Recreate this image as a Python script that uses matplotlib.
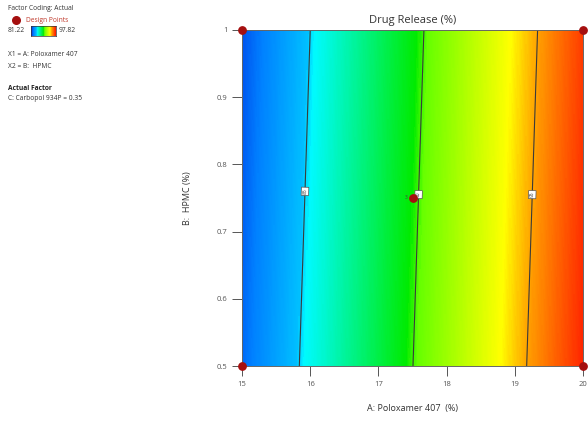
import matplotlib
matplotlib.use('Agg')
import matplotlib.pyplot as plt
import numpy as np
from matplotlib.colors import LinearSegmentedColormap

plt.rcParams['font.family'] = ['Open Sans', 'DejaVu Sans']

b0 = 85.0       # value at A=16, B=1
bA = 3.0        # per % Poloxamer 407
bB = -0.96      # per % HPMC
A0, B0 = 16.0, 1.0

a_range = [15, 20]
b_range = [0.5, 1.0]
levels = [85, 90, 95]
vmin, vmax = 81.22, 97.82

design_a = [15, 15, 20, 20, 17.5]
design_b = [0.5, 1.0, 0.5, 1.0, 0.75]

x_ticks = [15, 16, 17, 18, 19, 20]
y_ticks = [0.5, 0.6, 0.7, 0.8, 0.9, 1]
y_ticklabels = ['0.5', '0.6', '0.7', '0.8', '0.9', '1']

# design-expert like colour scale
cmap = LinearSegmentedColormap.from_list('dx', [
    (0.00, (0.0, 0.18, 0.88)),
    (0.10, (0.0, 0.50, 1.0)),
    (0.22, (0.0, 0.75, 1.0)),
    (0.24, (0.0, 0.98, 1.0)),
    (0.51, (0.0, 0.92, 0.0)),
    (0.54, (0.40, 1.0, 0.0)),
    (0.76, (1.0, 1.0, 0.0)),
    (0.81, (1.0, 0.74, 0.0)),
    (0.84, (1.0, 0.60, 0.0)),
    (1.00, (1.0, 0.08, 0.0)),
])


def drug_release(a, b):
    return b0 + bA * (a - A0) + bB * (b - B0)


fig = plt.figure(figsize=(5.88, 4.22), dpi=100)
ax = fig.add_axes([0.4116, 0.1327, 0.58, 0.7963])

aa, bb = np.meshgrid(np.linspace(a_range[0], a_range[1], 300),
                     np.linspace(b_range[0], b_range[1], 200))
zz = drug_release(aa, bb)
ax.pcolormesh(aa, bb, zz, cmap=cmap, vmin=vmin, vmax=vmax, shading='auto')
cs = ax.contour(aa, bb, zz, levels=levels, colors='#3a3a3a', linewidths=0.8)
lab = ax.clabel(cs, fmt='%d', fontsize=3.5, inline=False, colors='#333333',
                manual=[(15.9, 0.76), (17.62, 0.755), (19.25, 0.755)])
for t in lab:
    t.set_bbox(dict(boxstyle='square,pad=0.25', fc='white', ec='#555555', lw=0.5))

ax.scatter(design_a, design_b, s=28, color='#a50f0f', zorder=5, clip_on=False)
ax.text(17.43, 0.75, '3', fontsize=3.5, ha='right', va='center', color='#444444')

ax.set_xlim(a_range)
ax.set_ylim(b_range)
ax.set_xticks(x_ticks)
ax.set_yticks(y_ticks)
ax.set_yticklabels(y_ticklabels)
ax.tick_params(labelsize=5.5, colors='#555555', length=7, width=0.7, direction='out')
for s in ax.spines.values():
    s.set_color('#666666')
    s.set_linewidth(0.7)
ax.set_title('Drug Release (%)', fontsize=8, color='#333333', pad=5)
ax.set_xlabel('A: Poloxamer 407  (%)', fontsize=6.5, color='#333333', labelpad=12)
ax.set_ylabel('B:  HPMC (%)', fontsize=6.5, color='#333333', labelpad=18)

# left info panel
fs = 4.8
fig.text(8 / 588, 1 - 9 / 422, 'Factor Coding: Actual', fontsize=fs, color='#333333', va='center')
ax_dot = fig.add_axes([10 / 588, 1 - 25 / 422, 12 / 588, 10 / 422])
ax_dot.scatter([0], [0], s=30, color='#a50f0f')
ax_dot.set_axis_off()
fig.text(26 / 588, 1 - 20 / 422, 'Design Points', fontsize=fs, color='#c0392b', va='center')
fig.text(8 / 588, 1 - 31 / 422, '81.22', fontsize=fs, color='#333333', va='center')
cax = fig.add_axes([31 / 588, 1 - 36 / 422, 25 / 588, 10 / 422])
cax.imshow(np.linspace(0, 1, 100).reshape(1, -1), aspect='auto', cmap=cmap)
cax.set_xticks([])
cax.set_yticks([])
for s in cax.spines.values():
    s.set_color('#333333')
    s.set_linewidth(0.5)
fig.text(59 / 588, 1 - 31 / 422, '97.82', fontsize=fs, color='#333333', va='center')
fig.text(8 / 588, 1 - 55 / 422, 'X1 = A: Poloxamer 407', fontsize=fs, color='#333333', va='center')
fig.text(8 / 588, 1 - 66 / 422, 'X2 = B:  HPMC', fontsize=fs, color='#333333', va='center')
fig.text(8 / 588, 1 - 88 / 422, 'Actual Factor', fontsize=fs, color='#222222', va='center', fontweight='bold')
fig.text(8 / 588, 1 - 99 / 422, 'C: Carbopol 934P = 0.35', fontsize=fs, color='#333333', va='center')

fig.savefig('out.png', dpi=100)
